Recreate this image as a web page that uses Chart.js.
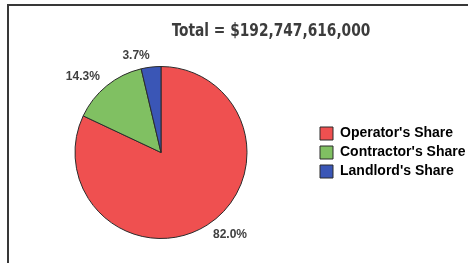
<!DOCTYPE html>
<html>
<head>
    <title>Total = $192,747,616,000</title>
    <style>
        body { margin: 0; padding: 0; background: #fff; }
        #wrap { position: relative; width: 468px; height: 263px; overflow: hidden; }
        #frame { position: absolute; left: 7px; top: 4px; width: 480px; height: 280px;
                 border-top: 2px solid #383838; border-left: 2px solid #383838; }
        #title { position: absolute; left: 271px; top: 20px; transform: translateX(-50%) scaleX(0.85);
                 white-space: nowrap; font: bold 18px/20px 'DejaVu Sans Condensed', 'DejaVu Sans', sans-serif;
                 color: #3c3c3c; }
        #chartContainer { position: absolute; left: 0; top: 0; width: 468px; height: 263px; }
    </style>
    <script src="https://cdn.jsdelivr.net/npm/chart.js"></script>
</head>
<body>
<div id="wrap">
    <div id="frame"></div>
    <div id="chartContainer">
        <canvas id="myPieChart" width="468" height="263"></canvas>
    </div>
    <div id="title">Total = $192,747,616,000</div>
</div>

<script>
    const categories = ["Operator's Share", "Contractor's Share", "Landlord's Share"];
    const shares = [82.0, 14.3, 3.7];
    const sliceColors = ['#ef5050', '#80c062', '#3a56b6'];

    // percent labels just outside each slice
    const sliceLabels = {
        id: 'sliceLabels',
        afterDatasetsDraw(chart) {
            const ctx = chart.ctx;
            const meta = chart.getDatasetMeta(0);
            ctx.save();
            ctx.font = 'bold 12px "Liberation Sans", Arial, sans-serif';
            ctx.fillStyle = '#404040';
            ctx.textBaseline = 'middle';
            meta.data.forEach((arc, i) => {
                const p = arc.getProps(['x', 'y', 'startAngle', 'endAngle', 'outerRadius'], true);
                const mid = (p.startAngle + p.endAngle) / 2;
                const r = p.outerRadius + 11;
                const x = p.x + Math.cos(mid) * r;
                const y = p.y + Math.sin(mid) * r;
                ctx.textAlign = Math.cos(mid) >= 0 ? 'left' : 'right';
                ctx.fillText(shares[i].toFixed(1) + '%', x, y);
            });
            ctx.restore();
        }
    };

    const ctx = document.getElementById('myPieChart').getContext('2d');
    new Chart(ctx, {
        type: 'pie',
        data: {
            labels: categories,
            datasets: [{
                data: shares,
                backgroundColor: sliceColors,
                borderColor: '#2b2b2b',
                borderWidth: 1
            }]
        },
        options: {
            responsive: false,
            animation: false,
            layout: { padding: { left: 7, right: 0, top: 66, bottom: 24 } },
            plugins: {
                title: { display: false },
                tooltip: { enabled: false },
                legend: {
                    position: 'right',
                    maxWidth: 153,
                    labels: {
                        boxWidth: 13,
                        boxHeight: 13,
                        padding: 5,
                        color: '#363636',
                        font: { family: "'Liberation Sans', Arial, sans-serif", size: 14, weight: 'bold' },
                        generateLabels(chart) {
                            return categories.map((c, i) => ({
                                text: c,
                                fillStyle: sliceColors[i],
                                strokeStyle: '#2b2b2b',
                                lineWidth: 1,
                                index: i
                            }));
                        }
                    }
                }
            }
        },
        plugins: [sliceLabels]
    });
</script>
</body>
</html>
